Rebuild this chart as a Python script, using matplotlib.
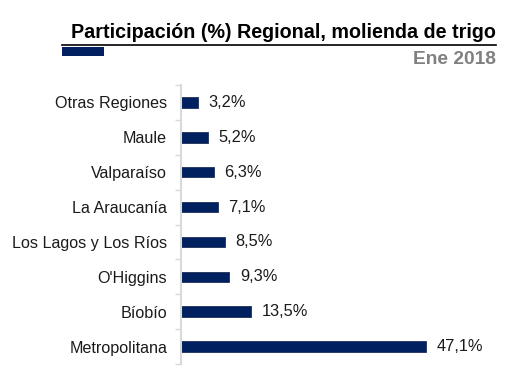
import matplotlib.pyplot as plt
from matplotlib.patches import Rectangle
from matplotlib.lines import Line2D

plt.rcParams['font.family'] = ['Liberation Sans', 'DejaVu Sans']

regions = ['Otras Regiones', 'Maule', 'Valparaíso', 'La Araucanía',
           'Los Lagos y Los Ríos', "O'Higgins", 'Bíobío', 'Metropolitana']
shares = [3.2, 5.2, 6.3, 7.1, 8.5, 9.3, 13.5, 47.1]
labels = ['3,2%', '5,2%', '6,3%', '7,1%', '8,5%', '9,3%', '13,5%', '47,1%']

NAVY = '#002060'
W, H = 516, 383

fig = plt.figure(figsize=(W / 100, H / 100), dpi=100)
ax = fig.add_axes([181 / W, 1 - 364 / H, (500 - 181) / W, (364 - 85) / H])

ypos = list(range(len(regions)))
ax.barh(ypos, shares, height=0.3, color=NAVY, edgecolor='#1f2f5a', linewidth=0.6)
ax.set_ylim(len(regions) - 0.5, -0.5)
ax.set_xlim(0, 61.3)

for y, v, lab in zip(ypos, shares, labels):
    ax.text(v + 2.0, y, lab, va='center', ha='left', fontsize=11.8, color='#1a1a1a')

ax.set_yticks(ypos)
ax.set_yticklabels(regions, fontsize=11.6, color='#1a1a1a')
ax.tick_params(axis='y', length=0, pad=10)
ax.set_yticks([i - 0.5 for i in range(len(regions) + 1)], minor=True)
ax.tick_params(axis='y', which='minor', length=4, color='#d9d9d9', width=1)
ax.set_xticks([])
for s in ['top', 'right', 'bottom']:
    ax.spines[s].set_visible(False)
ax.spines['left'].set_color('#d9d9d9')
ax.spines['left'].set_linewidth(1.5)

# header
fig.text(496 / W, 1 - 38 / H, 'Participación (%) Regional, molienda de trigo',
         ha='right', va='baseline', fontsize=14.2, fontweight='bold', color='black')
fig.add_artist(Line2D([62 / W, 496 / W], [1 - 45 / H, 1 - 45 / H],
                      color='black', lw=1.2, transform=fig.transFigure))
fig.add_artist(Rectangle((62 / W, 1 - 56 / H), 42 / W, 9 / H,
                         facecolor=NAVY, edgecolor='none', transform=fig.transFigure))
fig.text(496 / W, 1 - 64 / H, 'Ene 2018', ha='right', va='baseline',
         fontsize=13.8, fontweight='bold', color='#808080')

fig.savefig('out.png', dpi=100, facecolor='white')
